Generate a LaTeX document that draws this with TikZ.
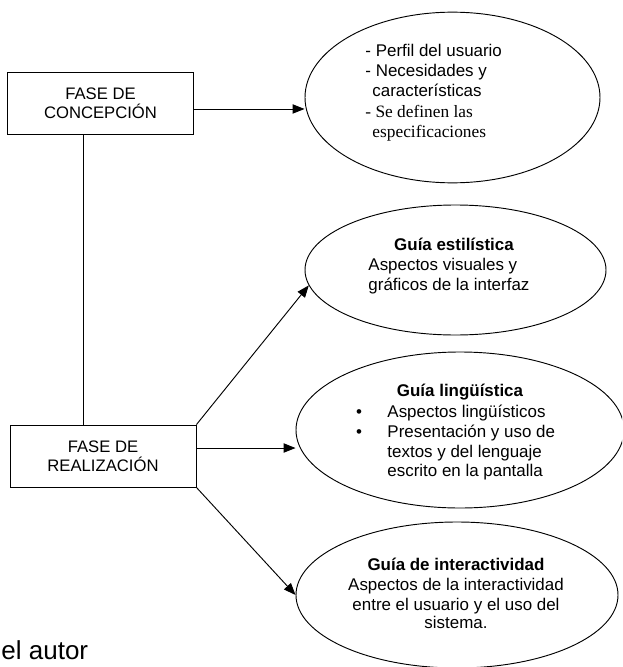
\documentclass[tikz,border=0pt]{standalone}
\usepackage{fontspec}
\setmainfont{Liberation Sans}
\newfontfamily\timesfont{Liberation Serif}
\usetikzlibrary{shapes.geometric,arrows.meta}
\begin{document}
\begin{tikzpicture}[x=0.75pt,y=-0.75pt,
  line width=0.7pt,
  stagebox/.style={draw, rectangle, inner sep=0pt, align=center,
    minimum width=140pt, minimum height=47pt,
    font=\fontsize{12.5}{14}\selectfont},
  oval/.style={draw, ellipse, inner sep=0pt},
  txt/.style={inner sep=0pt, font=\fontsize{12.7}{15}\selectfont},
  ttl/.style={inner sep=0pt, font=\fontsize{12.7}{15}\selectfont\bfseries},
  serif/.style={inner sep=0pt, font=\fontsize{13}{15}\selectfont\timesfont},
  arr/.style={-{Triangle[length=9pt,width=7pt]}}]
\path[use as bounding box] (0,0) rectangle (622,667);
\clip (0,0) rectangle (622,667);

% boxes
\node[stagebox] (b1) at (100.5,103.5) {FASE DE\\CONCEPCIÓN};
\node[stagebox, minimum width=139.5pt, minimum height=46.5pt] (b2) at (103,456) {FASE DE\\REALIZACIÓN};

% ellipses
\node[oval, minimum width=221.25pt, minimum height=128pt] (e1) at (452.5,97.5) {};
\node[oval, minimum width=225.75pt, minimum height=97.5pt] (e2) at (455.5,270) {};
\node[oval, minimum width=246pt, minimum height=117pt] (e3) at (460,430) {};
\node[oval, minimum width=241.5pt, minimum height=109.5pt] (e4) at (457,595) {};

% ellipse 1 text
\node[txt, anchor=base west] (t11) at (365,57) {- Perfil del usuario};
\node[txt, anchor=base west] (t12) at (365,77) {- Necesidades y};
\node[txt, anchor=base west] (t13) at (372,97) {características};
\node[serif, anchor=base west] (t14) at (365,117) {- Se definen las};
\node[serif, anchor=base west] (t15) at (372,137) {especificaciones};

% ellipse 2 text
\node[ttl, anchor=base] (t21) at (454,250) {Guía estilística};
\node[txt, anchor=base west] (t22) at (368,270) {Aspectos visuales y};
\node[txt, anchor=base west] (t23) at (368,290) {gráficos de la interfaz};

% ellipse 3 text
\node[ttl, anchor=base] (t31) at (460,396) {Guía lingüística};
\node[txt, anchor=base] (k1) at (359,417) {•};
\node[txt, anchor=base west] (t32) at (387,417) {Aspectos lingüísticos};
\node[txt, anchor=base] (k2) at (359,437) {•};
\node[txt, anchor=base west] (t33) at (387,437) {Presentación y uso de};
\node[txt, anchor=base west] (t34) at (387,457) {textos y del lenguaje};
\node[txt, anchor=base west] (t35) at (387,476) {escrito en la pantalla};

% ellipse 4 text
\node[ttl, anchor=base] (t41) at (456,570) {Guía de interactividad};
\node[txt, anchor=base] (t42) at (456,590) {Aspectos de la interactividad};
\node[txt, anchor=base] (t43) at (456,610) {entre el usuario y el uso del};
\node[txt, anchor=base] (t44) at (456,628) {sistema.};

% source fragment
\node[inner sep=0pt, anchor=base west, font=\fontsize{19.5}{22}\selectfont] (src) at (1,659) {el autor};

% connectors
\coordinate (vx) at (83,0);
\draw (b1.south -| vx) -- (b2.north -| vx);
\coordinate (a1) at ([yshift=-4.1pt]b1.east);
\draw[arr] (a1) -- (a1 -| e1.west);
\draw[arr] (b2.north east) -- (e2.186);
\coordinate (a3) at ([yshift=6pt]b2.east);
\draw[arr] (a3) -- (a3 -| e3.west);
\draw[arr] (b2.south east) -- (e4.west);
\end{tikzpicture}
\end{document}
